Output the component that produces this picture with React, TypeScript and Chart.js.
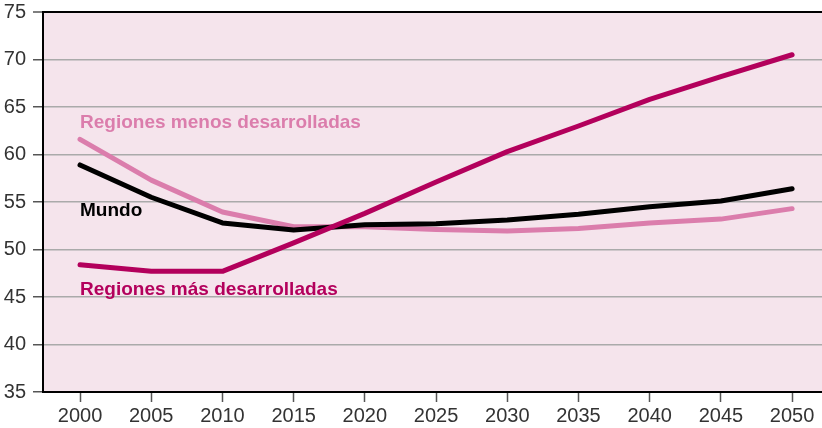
import React, { useEffect, useRef } from "react";
import { Chart, registerables } from "chart.js";

Chart.register(...registerables);

const years = [2000, 2005, 2010, 2015, 2020, 2025, 2030, 2035, 2040, 2045, 2050];
const masDesarrolladas = [48.4, 47.7, 47.7, 50.7, 53.8, 57.1, 60.3, 63.0, 65.8, 68.2, 70.5];
const mundo = [58.9, 55.5, 52.8, 52.05, 52.6, 52.7, 53.1, 53.7, 54.5, 55.1, 56.4];
const menosDesarrolladas = [61.6, 57.3, 53.95, 52.4, 52.4, 52.1, 51.95, 52.2, 52.8, 53.2, 54.3];
const yTicks = [35, 40, 45, 50, 55, 60, 65, 70, 75];

const seriesLabels = ["Regiones menos desarrolladas", "Mundo", "Regiones más desarrolladas"];
const labelValues = [63.3, 54.05, 45.8];
const colors = ["#db7dac", "#000000", "#b3005c"];

export default function App() {
  const ref = useRef<HTMLCanvasElement | null>(null);
  useEffect(() => {
    document.body.style.margin = "0";
    const canvas = ref.current!;
    const labelPlugin = {
      id: "seriesLabels",
      afterDatasetsDraw(chart: any) {
        const ctx = chart.ctx;
        const xs = chart.scales.x;
        const ys = chart.scales.y;
        ctx.save();
        ctx.font = "bold 19px 'Liberation Sans', Arial, sans-serif";
        ctx.textBaseline = "middle";
        ctx.textAlign = "left";
        seriesLabels.forEach((t, i) => {
          ctx.fillStyle = colors[i];
          ctx.fillText(t, xs.getPixelForValue(years[0]), ys.getPixelForValue(labelValues[i]));
        });
        ctx.restore();
      },
    };
    const chart = new Chart(canvas, {
      type: "line",
      data: {
        datasets: [
          {
            label: seriesLabels[2],
            data: years.map((y, i) => ({ x: y, y: masDesarrolladas[i] })),
            borderColor: colors[2],
            order: 0,
          },
          {
            label: seriesLabels[1],
            data: years.map((y, i) => ({ x: y, y: mundo[i] })),
            borderColor: colors[1],
            order: 1,
          },
          {
            label: seriesLabels[0],
            data: years.map((y, i) => ({ x: y, y: menosDesarrolladas[i] })),
            borderColor: colors[0],
            order: 2,
          },
        ].map((d) => ({
          ...d,
          borderWidth: 5,
          pointRadius: 0,
          tension: 0,
          fill: false,
          borderCapStyle: "round" as const,
          borderJoinStyle: "round" as const,
        })),
      },
      options: {
        animation: false,
        responsive: false,
        layout: { padding: { top: 12, right: 0, left: 0, bottom: 0 } },
        plugins: { legend: { display: false }, tooltip: { enabled: false } },
        scales: {
          x: {
            type: "linear",
            min: 1997.4,
            max: 2052.1,
            afterBuildTicks: (s: any) => {
              s.ticks = years.map((v) => ({ value: v }));
            },
            afterFit: (s: any) => {
              s.height = 36;
              s.paddingLeft = 0;
              s.paddingRight = 0;
            },
            grid: {
              drawOnChartArea: false,
              drawTicks: true,
              tickLength: 10,
              tickColor: "#555",
              tickWidth: 1.5,
            },
            border: { color: "#000", width: 2 },
            ticks: {
              color: "#333",
              padding: 2,
              font: { family: "'Liberation Sans', Arial, sans-serif", size: 20 },
              callback: (v: any) => String(v),
            },
          },
          y: {
            min: 35,
            max: 75,
            afterBuildTicks: (s: any) => {
              s.ticks = yTicks.map((v) => ({ value: v }));
            },
            afterFit: (s: any) => {
              s.width = 43;
              s.paddingTop = 0;
              s.paddingBottom = 0;
            },
            grid: {
              color: (c: any) => (c.tick && c.tick.value === 75 ? "#000" : "#aaaaaa"),
              lineWidth: (c: any) => (c.tick && c.tick.value === 75 ? 2 : 1.5),
              drawTicks: true,
              tickLength: 10,
              tickColor: "#555",
              tickWidth: 1.5,
            },
            border: { color: "#000", width: 2 },
            ticks: {
              color: "#333",
              padding: 7,
              font: { family: "'Liberation Sans', Arial, sans-serif", size: 20 },
            },
          },
        },
      },
      plugins: [
        {
          id: "bg",
          beforeDraw(chart: any) {
            const { ctx, chartArea } = chart;
            ctx.save();
            ctx.fillStyle = "#f5e4ec";
            ctx.fillRect(chartArea.left, chartArea.top, chartArea.right - chartArea.left, chartArea.bottom - chartArea.top);
            ctx.restore();
          },
        },
        labelPlugin,
      ],
    });
    return () => chart.destroy();
  }, []);
  return (
    <div style={{ width: 822, height: 428 }}>
      <canvas ref={ref} width={822} height={428} style={{ display: "block", width: 822, height: 428 }} />
    </div>
  );
}
